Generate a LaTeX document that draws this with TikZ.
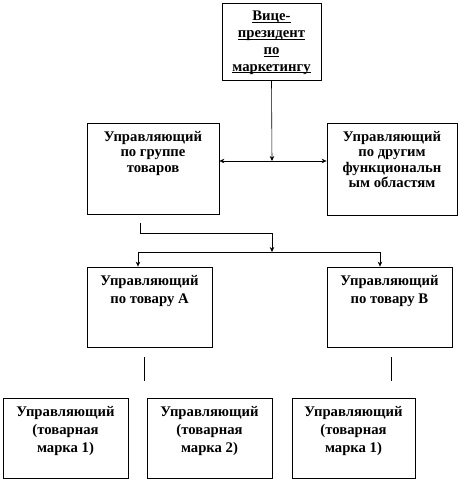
\documentclass[tikz,border=0pt]{standalone}
\usepackage{fontspec}
\setmainfont{Liberation Serif}
\usetikzlibrary{arrows.meta, positioning, calc}
\newsavebox{\ulbox}
\newcommand{\ulword}[1]{\sbox{\ulbox}{#1}\rlap{\rule[-2pt]{\wd\ulbox}{0.7pt}}\usebox{\ulbox}}

\begin{document}
\begin{tikzpicture}[
    x=1pt, y=-1pt,
    every node/.style={font=\fontsize{14.7}{15.5}\selectfont\bfseries},
    box/.style={rectangle, draw, line width=0.8pt, inner sep=0pt},
    topbox/.style={box, minimum width=131pt, minimum height=91pt},
    subbox/.style={box, minimum width=125pt, minimum height=80pt},
    lbl/.style={anchor=north, inner sep=0pt, align=center},
    vplbl/.style={lbl, font=\fontsize{14.7}{16.7}\selectfont\bfseries},
    lowlbl/.style={lbl, font=\fontsize{14.7}{18}\selectfont\bfseries},
    link/.style={line width=0.6pt},
    myarrow/.style={link, -{Stealth[length=5pt, width=4.5pt]}},
    dblarrow/.style={link, {Stealth[length=5pt, width=4.5pt]}-{Stealth[length=5pt, width=4.5pt]}}
]
\useasboundingbox (0,0) rectangle (459,483);

% ── Level 0: vice-president ──
\node[box, minimum width=99pt, minimum height=77pt] (vp) at (271.5, 41.5) {};
\node[vplbl] (vpT) at ([yshift=-8.5pt]vp.north)
    {\ulword{Вице-}\\\ulword{президент}\\\ulword{по}\\\ulword{маркетингу}};

% ── Level 1 ──
\node[topbox, minimum width=132pt] (grp) at (153, 168.5) {};
\node[lbl] (grpT) at ([yshift=-8.5pt]grp.north) {Управляющий\\по группе\\товаров};
\node[topbox, minimum width=130pt, minimum height=92pt] (oth) at (392, 169) {};
\node[lbl] (othT) at ([yshift=-8.5pt]oth.north) {Управляющий\\по другим\\функциональн\\ым областям};

% ── Level 2 ──
\node[subbox] (prdA) at (149.5, 307) {};
\node[lowlbl] (prdAT) at ([yshift=-8.5pt]prdA.north) {Управляющий\\по товару А};
\node[subbox] (prdB) at (389.5, 307) {};
\node[lowlbl] (prdBT) at ([yshift=-8.5pt]prdB.north) {Управляющий\\по товару В};

% ── Level 3: brand managers ──
\node[subbox] (br1) at (65.5, 438) {};
\node[lowlbl] (br1T) at ([yshift=-8.5pt]br1.north) {Управляющий\\(товарная\\марка 1)};
\node[subbox] (br2) at (209.5, 438) {};
\node[lowlbl] (br2T) at ([yshift=-8.5pt]br2.north) {Управляющий\\(товарная\\марка 2)};
\node[subbox, minimum width=123pt] (br3) at (353.5, 438) {};
\node[lowlbl] (br3T) at ([yshift=-8.5pt]br3.north) {Управляющий\\(товарная\\марка 1)};

% ── Connectors ──
\coordinate (j1) at (272, 161);
\draw[myarrow] (vp.south) -- (j1);
\draw[dblarrow] (grp.east |- j1) -- (oth.west |- j1);

\coordinate (g1) at (140, 223);
\coordinate (g2) at (140, 233);
\coordinate (g3) at (272, 233);
\coordinate (j2) at (272, 252);
\draw[myarrow] (g1) -- (g2) -- (g3) -- (j2);

\coordinate (jA) at (138, 252);
\coordinate (jB) at (380, 252);
\draw[link] (jA) -- (jB);
\draw[myarrow] (jA) -- (jA |- prdA.north);
\draw[myarrow] (jB) -- (jB |- prdB.north);

% ── Stubs below product managers ──
\coordinate (sA1) at (144, 357);
\coordinate (sA2) at (144, 381);
\coordinate (sB1) at (391, 357);
\coordinate (sB2) at (391, 381);
\draw[link] (sA1) -- (sA2);
\draw[link] (sB1) -- (sB2);

\end{tikzpicture}
\end{document}
